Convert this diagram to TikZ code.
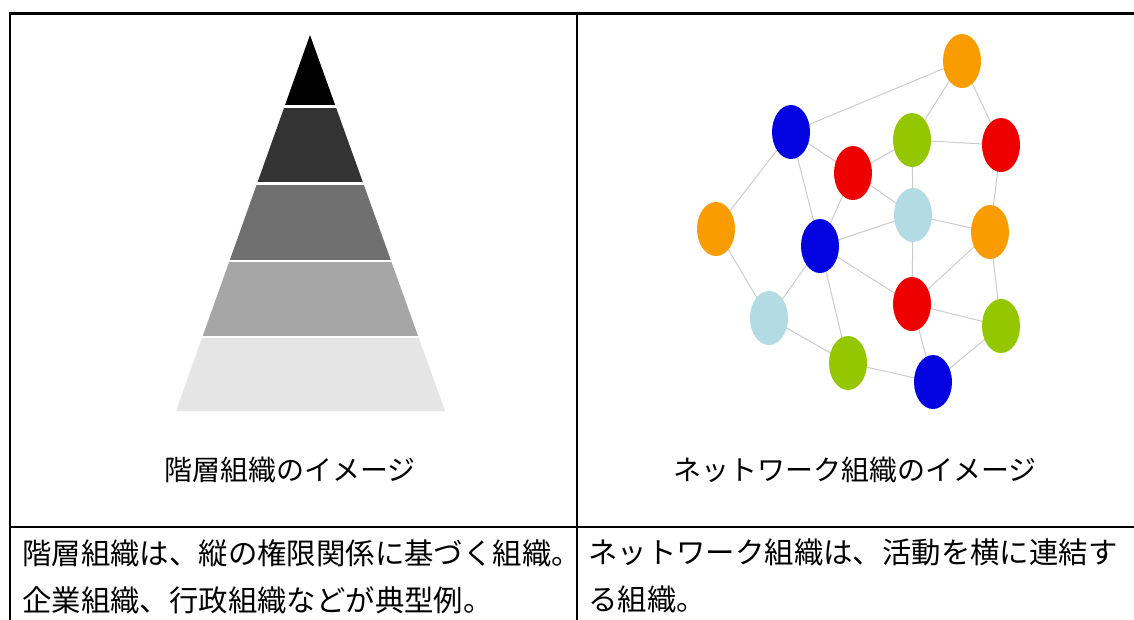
\documentclass[tikz,border=0pt]{standalone}
\usepackage{fontspec}
\usepackage{xcolor}
\usepackage{tikz}
\usetikzlibrary{shapes.geometric,backgrounds}
\newfontfamily\jpfont{Noto Sans CJK JP}
\definecolor{netorange}{HTML}{F89C00}
\definecolor{netblue}{HTML}{0404E0}
\definecolor{netgreen}{HTML}{94C700}
\definecolor{netred}{HTML}{EE0000}
\definecolor{netcyan}{HTML}{B2DBE3}
\definecolor{linkgray}{HTML}{CCCCCC}

\begin{document}
\begin{tikzpicture}[x=1pt,y=-1pt,
        dot/.style={ellipse,inner sep=0pt,minimum width=38pt,minimum height=54pt},
        link/.style={linkgray,line width=1pt},
        rule/.style={black,line width=2.4pt},
        caption/.style={font=\jpfont\fontsize{28}{47}\selectfont,inner sep=0pt},
        desc/.style={font=\jpfont\fontsize{29.4}{47}\selectfont,inner sep=0pt,align=left,anchor=north west}]
        \useasboundingbox (0,0) rectangle (1134,619);
        % table
        \draw [rule] (1140,13.5) -- (9.7,13.5) -- (9.7,625);
        \draw [rule] (577,13.5) -- (577,625);
        \draw [rule] (9.7,527) -- (1140,527);
        % pyramid
        \begin{scope}
            \clip (310,35) -- (445,411) -- (176,411) -- cycle;
            \fill [black] (170,30) rectangle (450,105);
            \fill [black!80] (170,108) rectangle (450,182);
            \fill [black!56] (170,184.5) rectangle (450,259.5);
            \fill [black!35] (170,262) rectangle (450,335.5);
            \fill [black!10] (170,338) rectangle (450,415);
        \end{scope}
        % network
        \node [dot,fill=netorange] (otop) at (962,61) {};
        \node [dot,fill=netblue] (btop) at (791,132) {};
        \node [dot,fill=netgreen] (gtop) at (912,140) {};
        \node [dot,fill=netred] (rright) at (1001,145) {};
        \node [dot,fill=netred] (rmid) at (853,173) {};
        \node [dot,fill=netcyan] (cmid) at (913,215) {};
        \node [dot,fill=netorange] (oleft) at (716,229) {};
        \node [dot,fill=netblue] (bmid) at (820,246) {};
        \node [dot,fill=netorange] (oright) at (990,232) {};
        \node [dot,fill=netred] (rlow) at (912,304) {};
        \node [dot,fill=netcyan] (clow) at (769,318) {};
        \node [dot,fill=netgreen] (gright) at (1001,326) {};
        \node [dot,fill=netgreen] (gbot) at (848,363) {};
        \node [dot,fill=netblue] (bbot) at (933,382) {};
        \begin{pgfonlayer}{background}
        \foreach \a/\b in {otop/btop,otop/gtop,otop/rright,btop/oleft,btop/rmid,btop/bmid,
                gtop/rmid,gtop/rright,gtop/cmid,rmid/cmid,rmid/bmid,rright/oright,
                cmid/bmid,cmid/oright,cmid/rlow,oleft/clow,bmid/clow,bmid/gbot,bmid/rlow,
                oright/rlow,oright/gright,rlow/gright,rlow/bbot,clow/gbot,gbot/bbot,bbot/gright}
            \draw [link] (\a.center) -- (\b.center);
        \end{pgfonlayer}
        % captions
        \node [caption] (hiercap) at (290,470) {階層組織のイメージ};
        \node [caption] (netcap) at (855,470) {ネットワーク組織のイメージ};
        \node [desc] (hierdesc) at (22,539) {階層組織は、縦の権限関係に基づく組織。\\企業組織、行政組織などが典型例。};
        \node [desc] (netdesc) at (588,539) {ネットワーク組織は、活動を横に連結す\\る組織。};
    \end{tikzpicture}
\end{document}
